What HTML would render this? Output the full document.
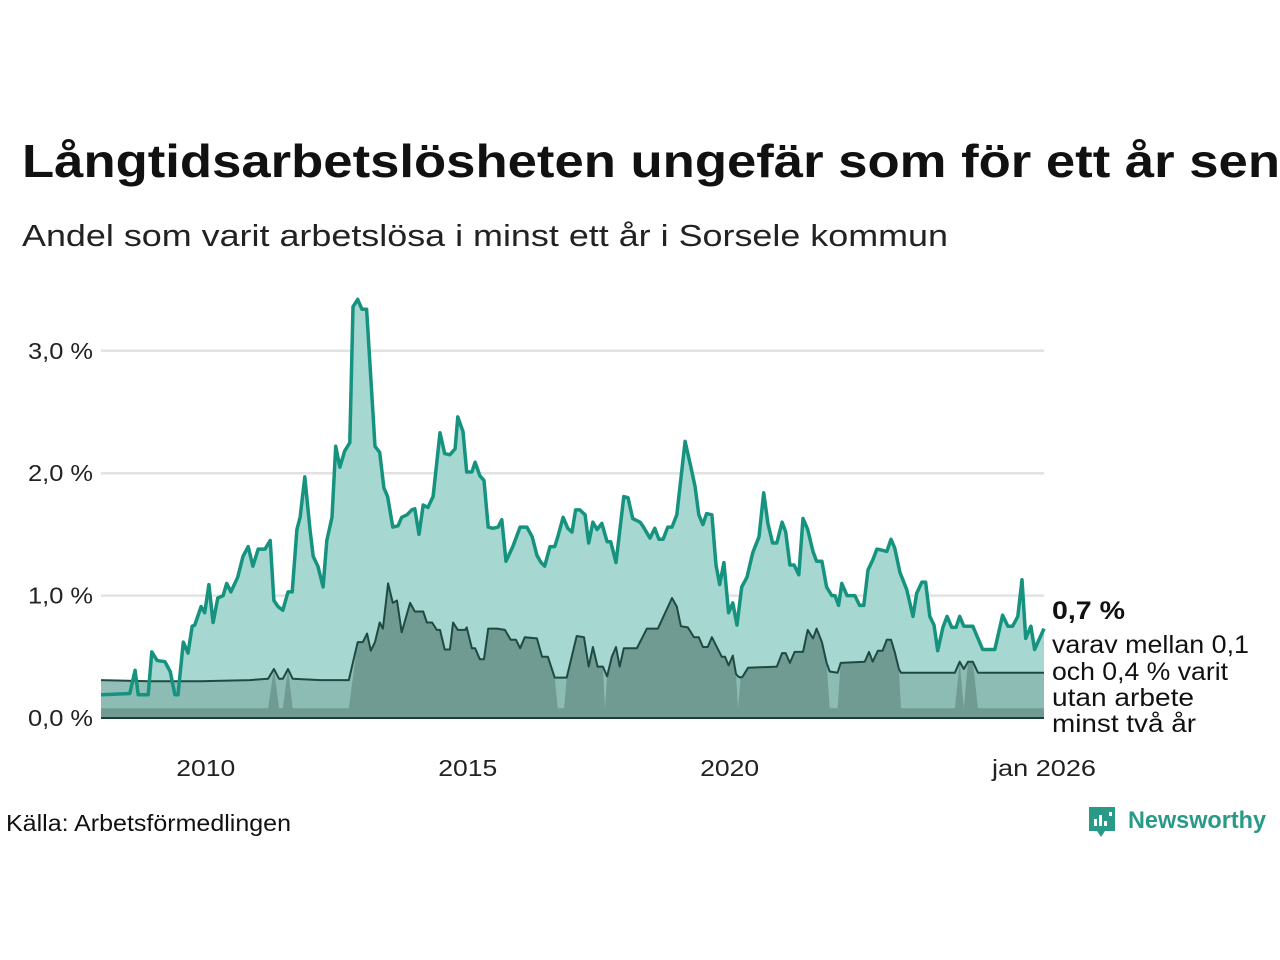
<!DOCTYPE html>
<html><head><meta charset="utf-8">
<style>
html,body{margin:0;padding:0;background:#fff;}
svg{display:block;font-family:"Liberation Sans","DejaVu Sans",sans-serif;}
</style></head>
<body>
<svg id="chart" width="1280" height="960" viewBox="0 0 1280 960">
  <text x="22" y="177" font-size="46" font-weight="bold" fill="#111" textLength="1258" lengthAdjust="spacingAndGlyphs">Långtidsarbetslösheten ungefär som för ett år sen</text>
  <text x="22" y="246" font-size="31" fill="#222" textLength="926" lengthAdjust="spacingAndGlyphs">Andel som varit arbetslösa i minst ett år i Sorsele kommun</text>
  <g id="grid"></g>
  <g id="areas"></g>
  <g id="yaxis"></g>
  <g id="xaxis"></g>
  <text x="1052" y="619" font-size="25" font-weight="bold" fill="#111" textLength="73" lengthAdjust="spacingAndGlyphs">0,7 %</text>
  <g font-size="25" fill="#111">
    <text x="1052" y="653" textLength="197" lengthAdjust="spacingAndGlyphs">varav mellan 0,1</text>
    <text x="1052" y="680" textLength="176" lengthAdjust="spacingAndGlyphs">och 0,4 % varit</text>
    <text x="1052" y="706" textLength="142" lengthAdjust="spacingAndGlyphs">utan arbete</text>
    <text x="1052" y="732" textLength="144" lengthAdjust="spacingAndGlyphs">minst två år</text>
  </g>
  <text x="6" y="831" font-size="23" fill="#111" textLength="285" lengthAdjust="spacingAndGlyphs">Källa: Arbetsförmedlingen</text>
  <g>
    <path d="M1089 807 h26 v24 h-10 l-4 6 l-4 -6 h-8 z" fill="#2a9a88"/>
    <rect x="1094" y="819" width="3" height="7" fill="#fff"/>
    <rect x="1099" y="815" width="3" height="11" fill="#fff"/>
    <rect x="1104" y="821" width="3" height="5" fill="#fff"/>
    <rect x="1109" y="812" width="3" height="4" fill="#fff"/>
    <text x="1128" y="828" font-size="24" font-weight="bold" fill="#2a9a88" textLength="138" lengthAdjust="spacingAndGlyphs">Newsworthy</text>
  </g>
</svg>
<script>
// Total long-term unemployment share (%), time in decimal years
const totalT = [2008.00,2008.55,2008.65,2008.71,2008.90,2008.97,2009.07,2009.22,2009.32,2009.41,2009.47,2009.57,2009.66,2009.74,2009.79,2009.91,2009.98,2010.06,2010.14,2010.23,2010.33,2010.40,2010.48,2010.61,2010.71,2010.81,2010.90,2011.00,2011.13,2011.23,2011.30,2011.38,2011.47,2011.57,2011.65,2011.74,2011.80,2011.89,2011.99,2012.05,2012.14,2012.24,2012.31,2012.41,2012.48,2012.56,2012.65,2012.75,2012.81,2012.90,2012.98,2013.07,2013.23,2013.32,2013.40,2013.47,2013.57,2013.67,2013.74,2013.84,2013.93,2013.99,2014.07,2014.15,2014.24,2014.34,2014.47,2014.56,2014.66,2014.76,2014.81,2014.91,2014.98,2015.08,2015.14,2015.23,2015.31,2015.39,2015.48,2015.58,2015.65,2015.73,2015.86,2016.00,2016.13,2016.23,2016.32,2016.40,2016.47,2016.57,2016.66,2016.72,2016.82,2016.91,2016.99,2017.06,2017.14,2017.24,2017.31,2017.39,2017.47,2017.56,2017.66,2017.73,2017.83,2017.98,2018.06,2018.15,2018.29,2018.34,2018.48,2018.57,2018.65,2018.73,2018.82,2018.90,2018.99,2019.15,2019.26,2019.34,2019.41,2019.49,2019.56,2019.66,2019.74,2019.81,2019.89,2019.98,2020.06,2020.14,2020.23,2020.33,2020.44,2020.56,2020.65,2020.73,2020.82,2020.90,2021.00,2021.07,2021.15,2021.23,2021.32,2021.40,2021.49,2021.59,2021.66,2021.76,2021.85,2021.95,2022.01,2022.08,2022.14,2022.24,2022.39,2022.48,2022.56,2022.64,2022.73,2022.81,2022.92,2023.00,2023.08,2023.15,2023.25,2023.38,2023.50,2023.57,2023.67,2023.74,2023.82,2023.90,2023.97,2024.07,2024.15,2024.24,2024.32,2024.39,2024.47,2024.64,2024.83,2025.06,2025.21,2025.31,2025.40,2025.50,2025.58,2025.65,2025.75,2025.82,2026.00];
const totalV = [0.19,0.20,0.39,0.19,0.19,0.54,0.47,0.46,0.38,0.19,0.19,0.62,0.53,0.75,0.76,0.91,0.86,1.09,0.78,0.98,1.00,1.10,1.03,1.15,1.32,1.40,1.24,1.38,1.38,1.45,0.96,0.91,0.88,1.03,1.03,1.54,1.64,1.97,1.54,1.32,1.24,1.07,1.45,1.64,2.22,2.05,2.18,2.25,3.36,3.42,3.34,3.34,2.22,2.17,1.88,1.81,1.56,1.57,1.64,1.66,1.70,1.71,1.50,1.74,1.72,1.81,2.33,2.16,2.15,2.20,2.46,2.34,2.01,2.01,2.09,1.98,1.94,1.56,1.55,1.56,1.62,1.28,1.40,1.56,1.56,1.48,1.33,1.27,1.24,1.40,1.40,1.48,1.64,1.55,1.52,1.70,1.70,1.66,1.43,1.60,1.54,1.59,1.44,1.44,1.27,1.81,1.80,1.63,1.60,1.57,1.47,1.55,1.46,1.46,1.56,1.56,1.66,2.26,2.05,1.89,1.66,1.58,1.67,1.66,1.25,1.09,1.27,0.86,0.94,0.76,1.07,1.15,1.35,1.48,1.84,1.59,1.43,1.43,1.60,1.52,1.25,1.25,1.17,1.63,1.54,1.36,1.28,1.28,1.07,1.00,1.00,0.92,1.10,1.00,1.00,0.92,0.92,1.21,1.29,1.38,1.37,1.36,1.46,1.39,1.19,1.05,0.83,1.02,1.11,1.11,0.83,0.76,0.55,0.74,0.83,0.74,0.74,0.83,0.75,0.75,0.56,0.56,0.84,0.75,0.75,0.83,1.13,0.65,0.75,0.56,0.73];
// Two-year range: upper bound (line) and lower bound (dark fill)
const rangeT = [2008.00,2008.94,2009.89,2010.84,2011.19,2011.30,2011.40,2011.47,2011.57,2011.66,2012.18,2012.73,2012.90,2013.00,2013.08,2013.15,2013.23,2013.32,2013.38,2013.48,2013.57,2013.65,2013.74,2013.90,2013.99,2014.15,2014.22,2014.32,2014.41,2014.47,2014.56,2014.66,2014.72,2014.81,2014.95,2014.98,2015.08,2015.14,2015.23,2015.31,2015.39,2015.56,2015.71,2015.82,2015.92,2016.00,2016.09,2016.32,2016.42,2016.53,2016.66,2016.72,2016.84,2016.89,2017.08,2017.22,2017.31,2017.39,2017.48,2017.58,2017.62,2017.66,2017.75,2017.83,2017.90,2017.98,2018.23,2018.42,2018.63,2018.90,2018.99,2019.07,2019.20,2019.32,2019.41,2019.49,2019.58,2019.66,2019.85,2019.91,2019.98,2020.06,2020.12,2020.16,2020.21,2020.25,2020.35,2020.90,2021.00,2021.07,2021.15,2021.24,2021.40,2021.49,2021.59,2021.66,2021.76,2021.85,2021.91,2022.06,2022.12,2022.58,2022.66,2022.73,2022.83,2022.92,2023.00,2023.08,2023.15,2023.23,2023.27,2024.30,2024.39,2024.47,2024.55,2024.64,2024.74,2026.00];
const rangeUp = [0.31,0.30,0.30,0.31,0.32,0.40,0.32,0.32,0.40,0.32,0.31,0.31,0.62,0.62,0.69,0.55,0.62,0.78,0.73,1.10,0.94,0.96,0.70,0.94,0.87,0.87,0.78,0.78,0.72,0.72,0.56,0.56,0.78,0.72,0.72,0.74,0.57,0.57,0.48,0.48,0.73,0.73,0.72,0.64,0.64,0.57,0.66,0.65,0.50,0.50,0.33,0.33,0.33,0.33,0.67,0.66,0.42,0.58,0.42,0.42,0.38,0.34,0.50,0.58,0.42,0.57,0.57,0.73,0.73,0.98,0.91,0.75,0.74,0.66,0.66,0.58,0.58,0.66,0.50,0.50,0.43,0.51,0.36,0.34,0.33,0.34,0.41,0.42,0.53,0.53,0.45,0.54,0.54,0.72,0.65,0.73,0.62,0.45,0.38,0.37,0.45,0.46,0.54,0.46,0.55,0.55,0.64,0.64,0.54,0.40,0.37,0.37,0.46,0.40,0.46,0.46,0.37,0.37];
const rangeLow = [0.08,0.08,0.08,0.08,0.08,0.40,0.08,0.08,0.40,0.08,0.08,0.08,0.62,0.62,0.69,0.55,0.62,0.78,0.73,1.10,0.94,0.96,0.70,0.94,0.87,0.87,0.78,0.78,0.72,0.72,0.56,0.56,0.78,0.72,0.72,0.74,0.57,0.57,0.48,0.48,0.73,0.73,0.72,0.64,0.64,0.57,0.66,0.65,0.50,0.50,0.33,0.08,0.08,0.33,0.67,0.66,0.42,0.58,0.42,0.42,0.08,0.34,0.50,0.58,0.42,0.57,0.57,0.73,0.73,0.98,0.91,0.75,0.74,0.66,0.66,0.58,0.58,0.66,0.50,0.50,0.43,0.51,0.36,0.08,0.33,0.34,0.41,0.42,0.53,0.53,0.45,0.54,0.54,0.72,0.65,0.73,0.62,0.45,0.08,0.08,0.45,0.46,0.54,0.46,0.55,0.55,0.64,0.64,0.54,0.40,0.08,0.08,0.46,0.08,0.46,0.46,0.08,0.08];
const yTicks = [0,1,2,3];
const yTickLabels = ["0,0 %","1,0 %","2,0 %","3,0 %"];
const xTicks = [2010,2015,2020,2026];
const xTickLabels = ["2010","2015","2020","jan 2026"];

const NS = "http://www.w3.org/2000/svg";
const X0 = 101, X1 = 1044, T0 = 2008, T1 = 2026;
const Y0 = 718, PXPER = 122.4;
const xs = t => X0 + (t - T0) / (T1 - T0) * (X1 - X0);
const ys = v => Y0 - v * PXPER;
function mk(tag, attrs, parent){ const e=document.createElementNS(NS,tag); for(const k in attrs) e.setAttribute(k,attrs[k]); parent.appendChild(e); return e; }
function linePath(T,V){ return T.map((t,i)=>(i?'L':'M')+xs(t).toFixed(1)+' '+ys(V[i]).toFixed(1)).join(' '); }
function areaPath(T,V){ return linePath(T,V)+' L'+xs(T[T.length-1]).toFixed(1)+' '+Y0+' L'+xs(T[0]).toFixed(1)+' '+Y0+' Z'; }

const grid = document.getElementById('grid');
yTicks.forEach((v,i)=>{
  if(v===0) return;
  const l = mk('line',{x1:X0,x2:X1,y1:ys(v),y2:ys(v),stroke:'#e2e2e2','stroke-width':2.5},grid);
  
  
});
const areas = document.getElementById('areas');
const aTot = mk('path',{d:areaPath(totalT,totalV),fill:'#a6d7d0'},areas);


const aUp = mk('path',{d:areaPath(rangeT,rangeUp),fill:'#8bbab2','fill-opacity':0.92},areas);


const aLow = mk('path',{d:areaPath(rangeT,rangeLow),fill:'#6f9b93'},areas);


const base = mk('line',{x1:X0,x2:X1,y1:Y0,y2:Y0,stroke:'#1e3d38','stroke-width':2},areas);


const lUp = mk('path',{d:linePath(rangeT,rangeUp),fill:'none',stroke:'#1f4a43','stroke-width':2,'stroke-linejoin':'round'},areas);


const lTot = mk('path',{d:linePath(totalT,totalV),fill:'none',stroke:'#16937f','stroke-width':3.5,'stroke-linejoin':'round'},areas);



const yaxis = document.getElementById('yaxis');
yTicks.forEach((v,i)=>{
  const t = mk('text',{x:93,y:ys(v)+8,'text-anchor':'end','font-size':23,fill:'#222',textLength:65,lengthAdjust:'spacingAndGlyphs'},yaxis);
  t.textContent = yTickLabels[i];
  
  
});
const xaxis = document.getElementById('xaxis');
xTicks.forEach((v,i)=>{
  const w = xTickLabels[i].length > 4 ? 104 : 59;
  const t = mk('text',{x:xs(v)-w/2,y:776,'font-size':23,fill:'#222',textLength:w,lengthAdjust:'spacingAndGlyphs'},xaxis);
  t.textContent = xTickLabels[i];
  
  
});
</script>
</body></html>
